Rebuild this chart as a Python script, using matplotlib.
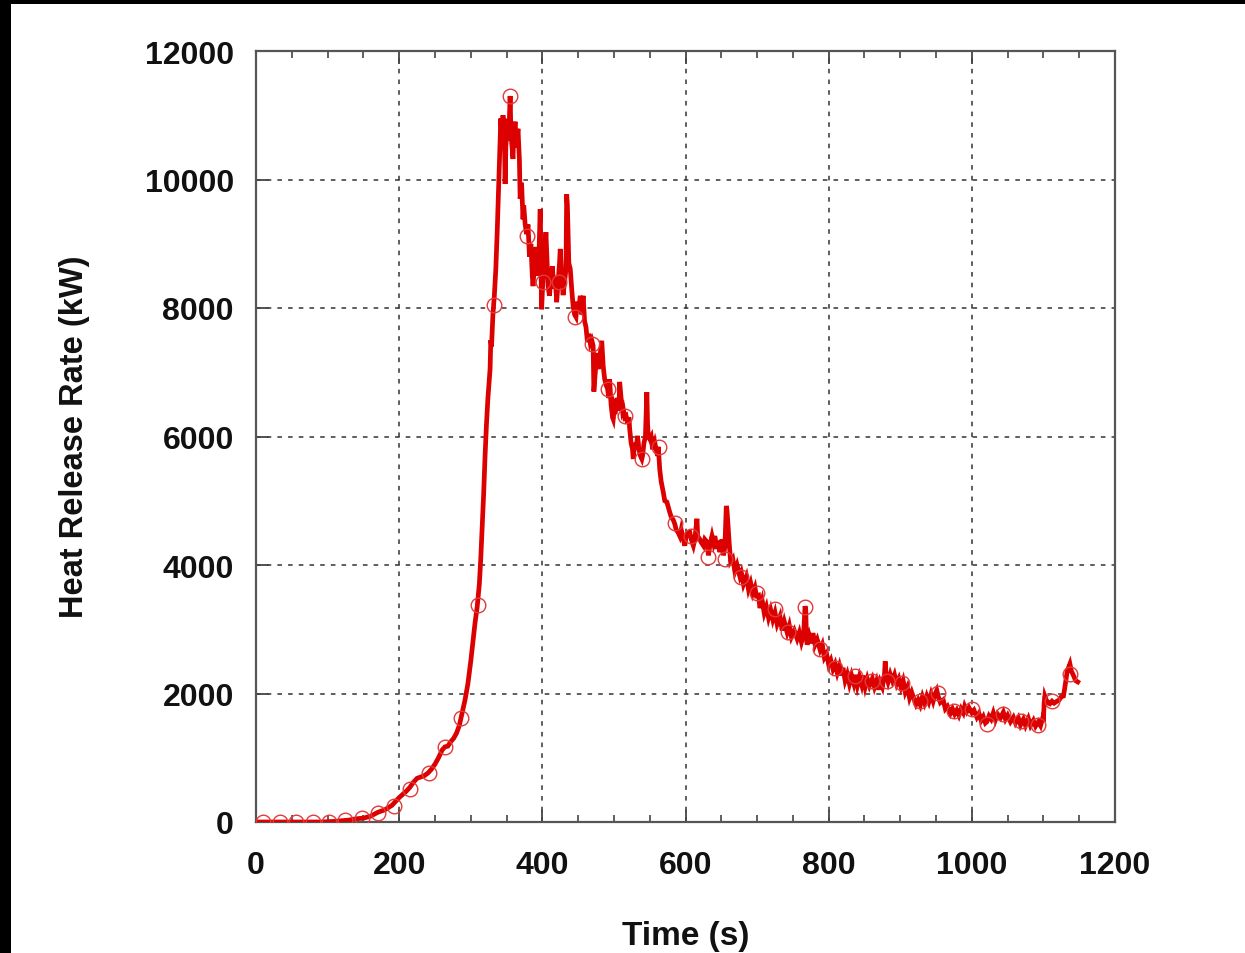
import matplotlib
matplotlib.use("Agg")
import matplotlib.pyplot as plt
from matplotlib.patches import Rectangle
from matplotlib.ticker import MultipleLocator

# ---- data ----
time_s = [
    0, 10, 20, 30, 40, 50, 60, 70, 80, 90, 100, 110, 120, 130, 140, 150, 160, 170, 180, 190,
    200, 205, 210, 215, 220, 225, 230, 235, 240, 245, 250, 255, 260, 264, 268, 272, 276, 280, 284, 288,
    292, 296, 300, 303, 306, 309, 312, 314, 316, 318, 320, 322, 324, 326, 327, 328, 329, 331, 333, 335,
    337, 339, 341, 342, 344, 345, 347, 348, 349, 351, 352, 353, 355, 356, 357, 359, 360, 362, 364, 366,
    368, 369, 371, 373, 374, 376, 378, 380, 382, 384, 386, 387, 389, 391, 393, 395, 397, 398, 399, 401,
    403, 405, 407, 408, 410, 412, 414, 416, 418, 420, 422, 424, 425, 427, 429, 431, 433, 434, 435, 437,
    439, 441, 443, 445, 447, 449, 451, 453, 455, 457, 459, 461, 463, 465, 467, 469, 471, 472, 474, 476,
    478, 480, 483, 485, 487, 489, 491, 493, 494, 496, 498, 499, 501, 503, 505, 507, 508, 510, 512, 513,
    515, 517, 519, 521, 522, 524, 526, 527, 529, 531, 533, 535, 537, 539, 540, 542, 544, 546, 547, 548,
    550, 552, 554, 557, 559, 561, 562, 564, 566, 569, 571, 574, 576, 578, 580, 583, 585, 587, 590, 592,
    594, 597, 599, 601, 603, 606, 608, 611, 613, 616, 617, 620, 622, 625, 627, 630, 632, 634, 637, 639,
    641, 644, 646, 648, 651, 653, 655, 657, 658, 660, 661, 663, 666, 669, 672, 676, 678, 681, 685, 688,
    691, 694, 697, 699, 702, 704, 707, 710, 713, 716, 719, 722, 725, 728, 732, 735, 738, 742, 745, 748,
    752, 756, 759, 762, 765, 767, 768, 769, 770, 773, 776, 778, 781, 784, 788, 791, 794, 797, 800, 803,
    806, 809, 812, 815, 818, 820, 823, 826, 829, 832, 835, 837, 840, 843, 846, 848, 851, 854, 857, 861,
    864, 867, 870, 872, 875, 878, 879, 880, 883, 886, 889, 892, 895, 898, 901, 904, 907, 910, 913, 916,
    919, 922, 925, 928, 931, 934, 937, 940, 943, 946, 949, 951, 953, 956, 960, 963, 966, 970, 973, 976,
    979, 982, 985, 988, 990, 993, 996, 1000, 1003, 1007, 1010, 1013, 1016, 1019, 1021, 1024, 1027, 1030, 1033, 1036,
    1040, 1044, 1047, 1050, 1054, 1058, 1061, 1065, 1068, 1072, 1075, 1079, 1082, 1086, 1089, 1093, 1096, 1099, 1100, 1101,
    1102, 1104, 1107, 1109, 1112, 1115, 1119, 1122, 1125, 1128, 1130, 1133, 1135, 1137, 1139, 1142, 1145, 1148,
]
hrr_kw = [
    0, 0, 0, 0, 0, 0, 0, 0, 0, 0, 5, 10, 20, 30, 50, 60, 90, 150, 190, 260,
    380, 430, 480, 540, 620, 680, 700, 720, 760, 820, 900, 1000, 1120, 1170, 1180, 1250, 1300, 1380, 1500, 1700,
    1900, 2150, 2500, 2800, 3100, 3350, 3700, 4100, 4600, 5100, 5700, 6200, 6600, 6900, 7050, 7500, 7400, 7900, 8200, 8600,
    9200, 9900, 10600, 10950, 10500, 11000, 10700, 9930, 10500, 10900, 10940, 10600, 11300, 10800, 10600, 10320, 10700, 10900, 10500, 10790,
    10300, 9700, 9950, 9380, 9600, 9300, 9150, 9300, 8800, 9000, 8500, 8340, 8700, 8950, 8500, 8700, 9540, 8800, 7980, 8500,
    8800, 9180, 8600, 8340, 8190, 8500, 8650, 8300, 8500, 8090, 8400, 8700, 8920, 8500, 8200, 8400, 8600, 9770, 9600, 8700,
    8610, 8300, 8030, 7900, 7860, 8100, 8000, 8190, 7900, 8190, 7800, 7700, 7470, 7600, 7450, 7500, 7410, 6700, 7000, 7300,
    7050, 7200, 7490, 7100, 6900, 6800, 6750, 6600, 6890, 6500, 6300, 6270, 6500, 6450, 6600, 6400, 6850, 6600, 6400, 6430,
    6300, 6320, 6200, 6300, 6120, 5900, 5800, 5650, 5900, 5800, 6010, 5800, 5700, 5650, 5700, 5900, 6000, 6690, 6200, 6000,
    5960, 6000, 5800, 5910, 5800, 5700, 5840, 5490, 5300, 5130, 5000, 4980, 4900, 4820, 4750, 4700, 4640, 4550, 4500, 4450,
    4550, 4400, 4300, 4450, 4500, 4510, 4400, 4300, 4400, 4720, 4450, 4400, 4350, 4300, 4400, 4360, 4150, 4300, 4450, 4350,
    4450, 4250, 4380, 4200, 4400, 4150, 4280, 4920, 4850, 4500, 4350, 4050, 4100, 3900, 4000, 3820, 3880, 3700, 3820, 3620,
    3720, 3560, 3650, 3520, 3530, 3330, 3450, 3250, 3350, 3180, 3300, 3150, 3260, 3080, 3200, 2980, 3120, 2950, 3060, 2880,
    2980, 2850, 2950, 2800, 2920, 3360, 3300, 2850, 2760, 2900, 2780, 2940, 2760, 2840, 2680, 2760, 2560, 2620, 2450, 2520,
    2380, 2460, 2320, 2430, 2280, 2400, 2200, 2300, 2150, 2280, 2160, 2290, 2120, 2260, 2140, 2280, 2100, 2230, 2120, 2230,
    2100, 2200, 2060, 2180, 2100, 2300, 2500, 2300, 2180, 2300, 2200, 2290, 2150, 2230, 2100, 2200, 2020, 2100, 1930, 2020,
    1920, 1830, 1900, 1820, 1950, 1850, 1960, 1870, 1990, 1880, 2000, 2050, 1960, 1860, 1900, 1760, 1800, 1690, 1760, 1680,
    1740, 1660, 1760, 1700, 1800, 1720, 1780, 1700, 1740, 1630, 1690, 1580, 1640, 1540, 1560, 1650, 1600, 1700, 1590, 1680,
    1620, 1710, 1600, 1660, 1560, 1630, 1540, 1620, 1510, 1600, 1500, 1610, 1500, 1580, 1490, 1560, 1500, 1620, 1560, 1850,
    1960, 1900, 1850, 1840, 1880, 1850, 1880, 1900, 1950, 1960, 2100, 2330, 2400, 2460, 2350, 2280, 2200, 2180,
]

marker_t = [10, 33, 56, 79, 102, 125, 148, 170, 193, 215, 242, 264, 286, 310, 332, 355, 378, 401,
            423, 446, 469, 492, 516, 539, 563, 585, 608, 632, 655, 678, 700, 725, 743, 767, 788,
            809, 837, 861, 882, 903, 928, 953, 975, 1000, 1021, 1044, 1068, 1093, 1112, 1137]
marker_hrr = [0, 0, 0, 0, 0, 30, 70, 140, 250, 520, 760, 1170, 1620, 3380, 8040, 11300, 9120, 8400,
              8400, 7860, 7440, 6740, 6320, 5650, 5840, 4650, 4450, 4120, 4090, 3820, 3560, 3310, 2960, 3350, 2700,
              2390, 2270, 2190, 2200, 2170, 1880, 2010, 1730, 1760, 1530, 1680, 1570, 1510, 1890, 2300]

x_ticks = [0, 200, 400, 600, 800, 1000, 1200]
y_ticks = [0, 2000, 4000, 6000, 8000, 10000, 12000]

# ---- figure ----
W, H = 1245, 954
fig = plt.figure(figsize=(W / 100, H / 100), dpi=100)
fig.patch.set_facecolor("white")

# black frame strips along top and left edges
fig.patches.append(Rectangle((0, 1 - 5 / H), 1, 5 / H, transform=fig.transFigure,
                             facecolor="black", edgecolor="none", zorder=10))
fig.patches.append(Rectangle((0, 0), 11 / W, 1, transform=fig.transFigure,
                             facecolor="black", edgecolor="none", zorder=10))

left, right, bottom, top = 256 / W, 1115 / W, 1 - 823 / H, 1 - 52 / H
ax = fig.add_axes([left, bottom, right - left, top - bottom])

red = "#dd0000"
ax.plot(time_s, hrr_kw, color=red, lw=3.4, solid_joinstyle="miter", zorder=3)
ax.plot(marker_t, marker_hrr, linestyle="none", marker="o", markersize=10.5,
        markerfacecolor="none", markeredgecolor="#e23a3a", markeredgewidth=1.0, zorder=4)

ax.set_xlim(0, 1200)
ax.set_ylim(0, 12000)
ax.set_xticks(x_ticks)
ax.set_yticks(y_ticks)
ax.xaxis.set_minor_locator(MultipleLocator(50))

ax.grid(True, which="major", color="#333333", linestyle=(0, (3, 4)), linewidth=1.1)
ax.set_axisbelow(True)

for s in ax.spines.values():
    s.set_color("#555555")
    s.set_linewidth(1.6)

ax.tick_params(axis="x", which="major", direction="in", length=9, width=1.3, color="#444444",
               top=True, pad=20)
ax.tick_params(axis="x", which="minor", direction="in", length=5, width=1.2, color="#444444",
               top=True)
ax.tick_params(axis="y", which="major", direction="in", length=9, width=1.3, color="#444444",
               right=False, pad=16)

font = "Liberation Sans"
for lab in ax.get_xticklabels() + ax.get_yticklabels():
    lab.set_fontfamily(font)
    lab.set_fontweight("bold")
    lab.set_fontsize(23)
    lab.set_color("#111111")

fig.text(75 / W, 1 - 437 / H, "Heat Release Rate (kW)", rotation=90, ha="center", va="center",
         fontsize=23.5, fontweight="bold", family=font, color="#111111")
fig.text(686 / W, 1 - 937 / H, "Time (s)", ha="center", va="center",
         fontsize=24, fontweight="bold", family=font, color="#111111")

fig.savefig("out.png", dpi=100, facecolor="white")
